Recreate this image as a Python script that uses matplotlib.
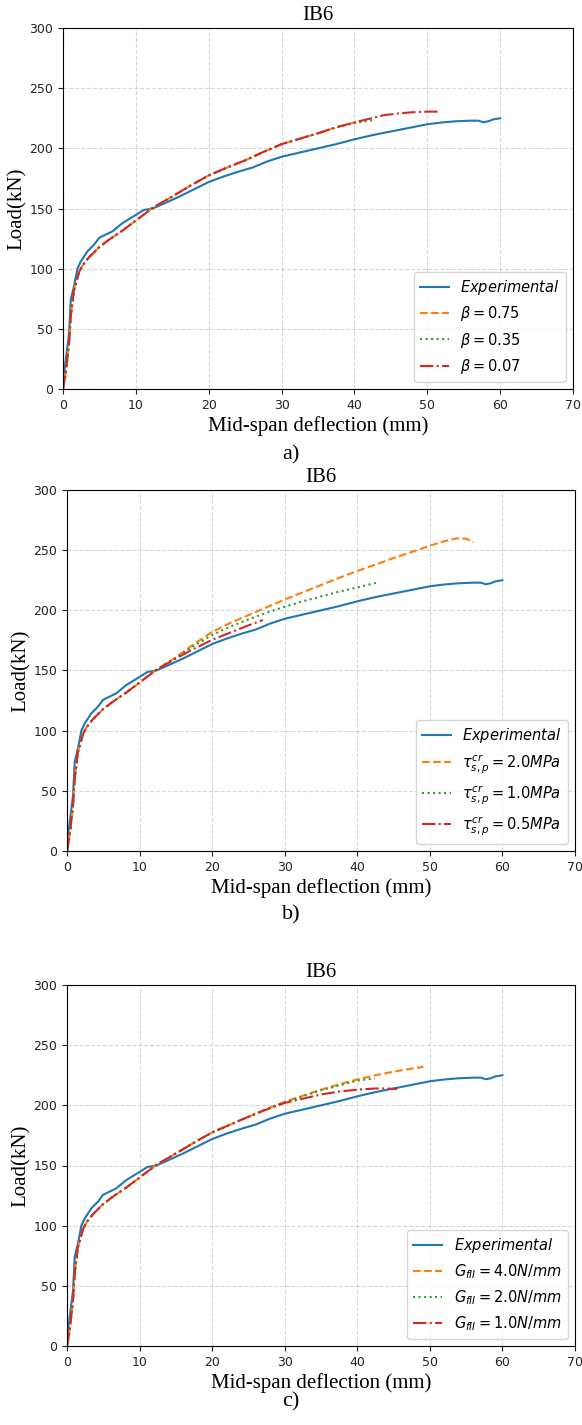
import matplotlib
matplotlib.use("Agg")
import matplotlib.pyplot as plt

# ---------------- data ----------------
exp_x = [0, 0.14, 0.5, 0.83, 1.06, 1.5, 1.98, 2.44, 3.36, 4.27, 4.96, 5.87, 6.78, 8.15, 9.98,
         11.1, 12.3, 14, 16, 18, 20, 22, 24, 26, 28, 30, 32.5, 35, 37.5, 40, 42.5, 45, 47.5,
         50, 52, 54, 56, 57, 57.7, 58.4, 59, 60]
exp_y = [0, 13, 30, 46, 74, 85, 100, 106, 114.4, 120, 125.6, 128.3, 131, 137.8, 144.6,
         148.8, 150, 154.5, 160, 166, 172, 176.5, 180.5, 184, 189, 193, 196.5, 200, 203.5,
         207.5, 211, 214, 217, 220, 221.5, 222.5, 223, 223, 221.7, 222.5, 224, 225]

# common early branch of numerical curves
base_x = [0, 0.37, 0.83, 1.06, 1.5, 2.2, 2.66, 3.57, 4.96, 6.3, 8.15, 10, 12.3]
base_y = [0, 13, 38, 60, 82, 97, 102.6, 109.5, 117.8, 124, 131.6, 140, 150.5]

# panel a (beta)
a075_x = base_x + [15, 17.5, 20, 22.5, 25, 27.5, 30, 32.5, 35, 37.5, 40, 41]
a075_y = base_y + [160, 169, 177.5, 184, 190, 197, 203.5, 208, 212.5, 217.5, 221.5, 223]
a035_x = base_x + [15, 17.5, 20, 22.5, 25, 27.5, 30, 32.5, 35, 37.5, 40, 42.6]
a035_y = base_y + [160, 169, 177.5, 184, 190, 197, 203.5, 208, 212.5, 217.5, 221, 223.5]
a007_x = base_x + [15, 17.5, 20, 22.5, 25, 27.5, 30, 32.5, 35, 37.5, 40, 42, 44, 46, 48, 50, 51.5]
a007_y = base_y + [160, 169, 177.5, 184, 190, 197, 203.5, 208, 212.5, 217.5, 221.5, 224.5,
                   227.5, 229, 230, 230.5, 230.5]

# panel b (tau)
b20_x = base_x + [15, 17.5, 20, 22.5, 25, 27.5, 30, 32.5, 35, 37.5, 40, 42.5, 45, 47.5, 50,
                  52, 53.7, 55, 56]
b20_y = base_y + [161, 172, 182, 189.5, 196, 202.5, 209, 215, 221, 227, 232.7, 238, 243.5,
                  248.5, 253.7, 257.5, 259.8, 259.5, 256.5]
b10_x = base_x + [15, 17.5, 20, 22.5, 25, 27.5, 30, 32.5, 35, 37.5, 40, 42.7]
b10_y = base_y + [160.5, 170.5, 179.5, 186.5, 192.5, 198, 203, 207.5, 211.5, 215.5, 219, 223]
b05_x = base_x + [15, 17.5, 20, 22.5, 25, 27]
b05_y = base_y + [160, 168, 175.5, 181.5, 187.5, 192]

# panel c (G_fII)
c40_x = base_x + [15, 17.5, 20, 22.5, 25, 27.5, 30, 32.5, 35, 37.5, 40, 42.5, 45, 47.5, 49.1]
c40_y = base_y + [160, 169, 177.5, 184, 190.5, 197, 203, 208, 213, 217.5, 221.5, 225, 228,
                  230.5, 232]
c20_x = base_x + [15, 17.5, 20, 22.5, 25, 27.5, 30, 32.5, 35, 37.5, 40, 42.4]
c20_y = base_y + [160, 169, 177.5, 184, 190.5, 197, 202.5, 207.5, 212.5, 216.5, 220.5, 222.5]
c10_x = base_x + [15, 17.5, 20, 22.5, 25, 27.5, 30, 32.5, 35, 37.5, 40, 42.5, 44, 45.5]
c10_y = base_y + [160, 169, 177.5, 184, 190.5, 196.5, 202, 205.5, 209, 211.5, 213, 214, 214, 213.5]

labels_a = [r'$\beta = 0.75$', r'$\beta = 0.35$', r'$\beta = 0.07$']
labels_b = [r'$\tau^{cr}_{s,p} = 2.0MPa$', r'$\tau^{cr}_{s,p} = 1.0MPa$', r'$\tau^{cr}_{s,p} = 0.5MPa$']
labels_c = [r'$G_{fII} = 4.0N/mm$', r'$G_{fII} = 2.0N/mm$', r'$G_{fII} = 1.0N/mm$']
exp_label = r'$Experimental$'
x_ticks = [0, 10, 20, 30, 40, 50, 60, 70]
y_ticks = [0, 50, 100, 150, 200, 250, 300]
title = 'IB6'
xlabel = 'Mid-span deflection (mm)'
ylabel = 'Load(kN)'
sub_labels = ['a)', 'b)', 'c)']

panels = [
    ((a075_x, a075_y), (a035_x, a035_y), (a007_x, a007_y), labels_a),
    ((b20_x, b20_y), (b10_x, b10_y), (b05_x, b05_y), labels_b),
    ((c40_x, c40_y), (c20_x, c20_y), (c10_x, c10_y), labels_c),
]

# ---------------- figure ----------------
W, H = 582, 1425
fig = plt.figure(figsize=(W / 100, H / 100), dpi=100)
serif = ['Liberation Serif', 'DejaVu Serif']

# axes boxes in pixels: left, top, right, bottom
boxes = [(63, 28, 573, 389), (67, 490, 575, 851), (67, 985, 575, 1346)]
sub_y = [455, 915, 1402]

for (box, panel, sl, sy) in zip(boxes, panels, sub_labels, sub_y):
    l, t, r, b = box
    ax = fig.add_axes([l / W, 1 - b / H, (r - l) / W, (b - t) / H])
    (o, g, rr, labs) = panel
    ax.plot(exp_x, exp_y, color='#1f77b4', lw=1.5, ls='-', label=exp_label)
    ax.plot(o[0], o[1], color='#ff7f0e', lw=1.5, ls='--', label=labs[0])
    ax.plot(g[0], g[1], color='#2ca02c', lw=1.5, ls=':', label=labs[1])
    ax.plot(rr[0], rr[1], color='#d62728', lw=1.5, ls='-.', label=labs[2])
    ax.set_xlim(0, 70)
    ax.set_ylim(0, 300)
    ax.set_xticks(x_ticks)
    ax.set_yticks(y_ticks)
    ax.tick_params(labelsize=9, colors='#222222')
    ax.grid(True, linestyle='--', alpha=0.5)
    ax.set_title(title, family=serif, fontsize=15, pad=6)
    ax.set_xlabel(xlabel, family=serif, fontsize=15, labelpad=3)
    ax.set_ylabel(ylabel, family=serif, fontsize=15, labelpad=2)
    ax.legend(loc='lower right', fontsize=10.5)
    fig.text(0.5, 1 - sy / H, sl, family=serif, fontsize=16, ha='center', va='center')

fig.savefig('out.png', dpi=100)
